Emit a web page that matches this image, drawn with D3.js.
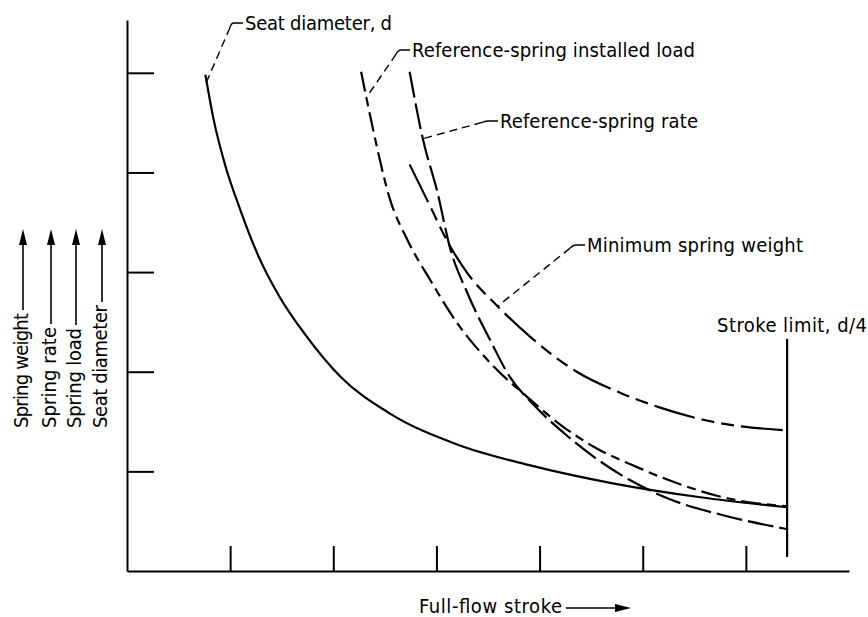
<!DOCTYPE html>
<html>
<head>
<meta charset="utf-8">
<script src="https://cdn.jsdelivr.net/npm/d3@7"></script>
<style>
  html, body { margin: 0; padding: 0; background: #fff; }
  svg { display: block; }
</style>
</head>
<body>
<script>
// ---------------- data ----------------
const xTicks = [1, 2, 3, 4, 5, 6];
const yTicks = [1, 2, 3, 4, 5];
const strokeLimit = 6.4;

// Seat diameter, d (solid)
const seatDiameter = [[0.76,4.98],[0.84,4.53],[0.95,4.08],[1.10,3.62],[1.27,3.17],[1.48,2.75],[1.73,2.37],[2.07,1.95],[2.55,1.58],[3.20,1.27],[3.91,1.06],[4.71,0.88],[5.56,0.74],[6.40,0.64]];
// Reference-spring installed load
const installedLoad = [[2.27,5.01],[2.38,4.46],[2.55,3.73],[2.72,3.32],[2.94,2.92],[3.20,2.49],[3.52,2.09],[3.91,1.72],[4.20,1.47],[4.52,1.25],[4.95,1.04],[5.39,0.86],[5.82,0.73],[6.40,0.65]];
// Reference-spring rate
const springRate = [[2.74,5.01],[2.87,4.33],[3.01,3.80],[3.13,3.25],[3.30,2.79],[3.52,2.32],[3.71,1.95],[3.94,1.67],[4.23,1.39],[4.52,1.15],[4.88,0.91],[5.29,0.71],[5.78,0.56],[6.40,0.42]];
// Minimum spring weight
const minWeight = [[2.74,4.08],[2.94,3.66],[3.10,3.32],[3.30,2.99],[3.59,2.66],[3.91,2.35],[4.36,2.00],[4.78,1.79],[5.17,1.64],[5.62,1.51],[6.40,1.41]];

// curve labels: text anchor (data units), leader target (data units)
const curveLabels = ["Seat diameter, d", "Reference-spring installed load", "Reference-spring rate", "Minimum spring weight"];
const labelAnchors = [[1.144,5.43],[2.763,5.159],[3.616,4.446],[4.46,3.202]];
const leaderTargets = [[0.766,4.897],[2.317,4.747],[2.860,4.336],[3.597,2.660]];
const yAxisLabels = ["Spring weight", "Spring rate", "Spring load", "Seat diameter"];
const xAxisLabel = "Full-flow stroke";
const strokeLimitLabel = "Stroke limit, d/4";

// ---------------- layout ----------------
const W = 868, H = 617;
const FONT = "'DejaVu Sans Condensed','DejaVu Sans',sans-serif";
const svg = d3.select("body").append("svg").attr("width", W).attr("height", H);
svg.append("rect").attr("width", W).attr("height", H).attr("fill", "#fff");

const x = d3.scaleLinear().domain([0, 7]).range([127, 849]);
const y = d3.scaleLinear().domain([0, 5.53]).range([571, 20]);

function label(sel) {
  return sel.attr("font-family", FONT).attr("font-stretch", "condensed")
    .attr("font-size", 20).attr("fill", "#000").attr("lengthAdjust", "spacing");
}

// axes
svg.append("g")
  .attr("transform", `translate(${x(0)},0)`)
  .call(d3.axisRight(y).tickValues(yTicks).tickSize(27).tickSizeOuter(0).tickFormat(""))
  .call(g => g.selectAll("path,line").attr("stroke", "#000").attr("stroke-width", 2));
svg.append("g")
  .attr("transform", `translate(0,${y(0)})`)
  .call(d3.axisTop(x).tickValues(xTicks).tickSize(25).tickSizeOuter(0).tickFormat(""))
  .call(g => g.selectAll("path,line").attr("stroke", "#000").attr("stroke-width", 2));

// curves
const line = d3.line().x(d => x(d[0])).y(d => y(d[1])).curve(d3.curveMonotoneX);
const series = [
  { data: seatDiameter, dash: null },
  { data: installedLoad, dash: "20,6,9,6" },
  { data: springRate, dash: "26,6" },
  { data: minWeight, dash: "42,7,13,7,13,7" }
];
svg.append("g").selectAll("path").data(series).join("path")
  .attr("d", d => line(d.data))
  .attr("fill", "none")
  .attr("stroke", "#000")
  .attr("stroke-width", 2.2)
  .attr("stroke-dasharray", d => d.dash);

// stroke limit
svg.append("line")
  .attr("x1", x(strokeLimit)).attr("x2", x(strokeLimit))
  .attr("y1", y(2.33)).attr("y2", y(0.14))
  .attr("stroke", "#000").attr("stroke-width", 2.2);
svg.append("text").call(label)
  .attr("x", 717).attr("y", 332)
  .attr("textLength", 150)
  .text(strokeLimitLabel);

// curve labels with leaders
const widths = [147, 283, 198, 216];
curveLabels.forEach((lab, i) => {
  const tx = x(labelAnchors[i][0]), ty = y(labelAnchors[i][1]);
  const gx = x(leaderTargets[i][0]), gy = y(leaderTargets[i][1]);
  svg.append("text").call(label)
    .attr("x", tx).attr("y", ty)
    .attr("textLength", widths[i])
    .text(lab);
  const hy = ty - 7;
  const ex = tx - 13;
  const dx = gx - ex, dy = gy - hy, L = Math.hypot(dx, dy);
  const ux = dx / L, uy = dy / L;
  const bx = ex + 5 * ux, by = hy + 5 * uy;
  svg.append("path")
    .attr("d", `M${tx - 2},${hy}L${ex + 2},${hy}Q${ex - 1},${hy} ${bx},${by}`)
    .attr("fill", "none").attr("stroke", "#000").attr("stroke-width", 1.4);
  svg.append("path")
    .attr("d", `M${bx},${by}L${gx},${gy}`)
    .attr("fill", "none").attr("stroke", "#000").attr("stroke-width", 1.4)
    .attr("stroke-dasharray", "8,5");
});

// y-axis (left) labels with arrows
const arrowX = [23, 51, 76, 102];
const labLens = [115, 101, 100, 123];
yAxisLabels.forEach((lab, i) => {
  const ax = arrowX[i];
  svg.append("text").call(label)
    .attr("transform", `translate(${ax + 5},428) rotate(-90)`)
    .attr("textLength", labLens[i])
    .text(lab);
  svg.append("line")
    .attr("x1", ax).attr("x2", ax)
    .attr("y1", 428 - labLens[i] - 3).attr("y2", 242)
    .attr("stroke", "#000").attr("stroke-width", 1.6);
  svg.append("path")
    .attr("d", `M${ax},229L${ax - 4},245L${ax + 4},245Z`)
    .attr("fill", "#000");
});

// x-axis label with arrow
svg.append("text").call(label)
  .attr("x", 419).attr("y", 613)
  .attr("textLength", 143)
  .text(xAxisLabel);
svg.append("line")
  .attr("x1", 566).attr("x2", 618).attr("y1", 608).attr("y2", 608)
  .attr("stroke", "#000").attr("stroke-width", 1.6);
svg.append("path")
  .attr("d", "M631,608L615,604L615,612Z")
  .attr("fill", "#000");
</script>
</body>
</html>
